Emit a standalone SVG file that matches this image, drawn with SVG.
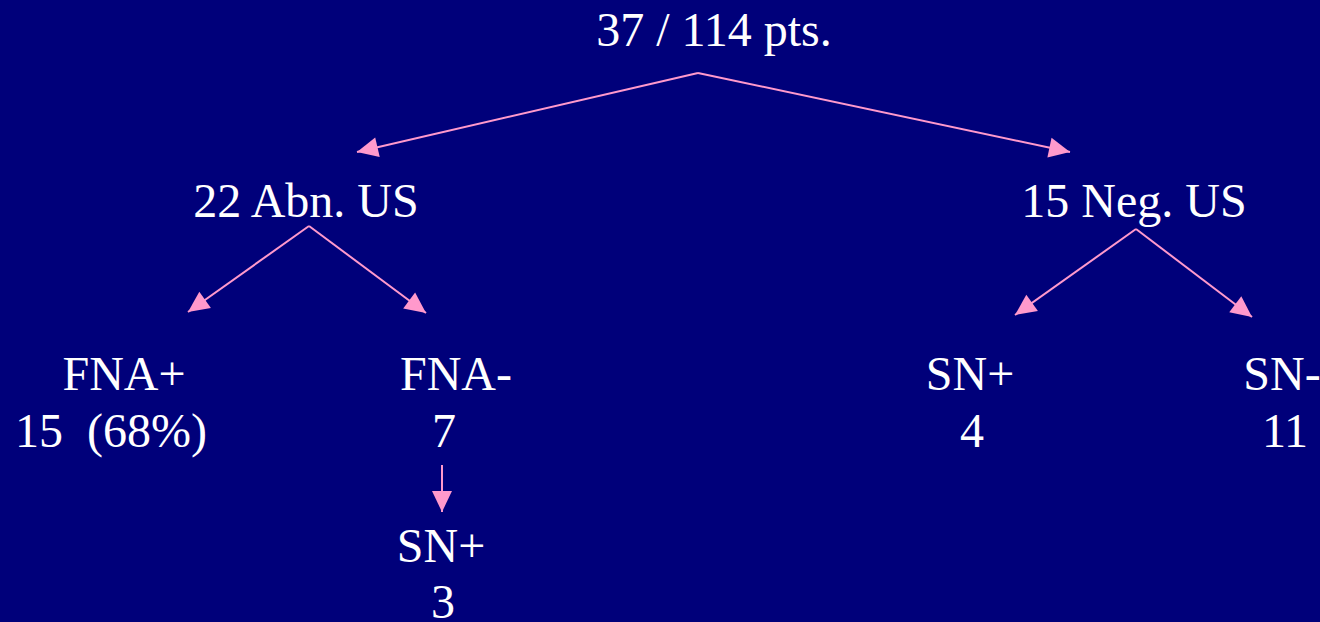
<svg xmlns="http://www.w3.org/2000/svg" width="1320" height="622" viewBox="0 0 1320 622">
  <style>
    .t { font-family: "Liberation Serif", "Times New Roman", serif; font-size: 48px; fill: #ffffff; text-anchor: middle; white-space: pre; }
    .c { stroke: #ff99cc; stroke-width: 2; fill: none; marker-end: url(#ah); }
  </style>
  <defs>
    <marker id="ah" markerUnits="userSpaceOnUse" markerWidth="24" markerHeight="22" refX="22" refY="11" orient="auto">
      <path d="M1,1 L22,11 L1,21 z" fill="#ff99cc"/>
    </marker>
  </defs>
  <rect width="1320" height="622" fill="#00007a"/>
  <g id="connectors">
    <polyline class="c" points="698,73 357,152"/>
    <polyline class="c" points="698,73 1070,152"/>
    <polyline class="c" points="309,226 188,312"/>
    <polyline class="c" points="309,226 426,313"/>
    <polyline class="c" points="1136,229 1015,315"/>
    <polyline class="c" points="1136,229 1252,317"/>
    <polyline class="c" points="442,465 442,512"/>
  </g>
  <g id="root"><text class="t" x="714" y="46">37 / 114 pts.</text></g>
  <g id="abn"><text class="t" x="306" y="217">22 Abn. US</text></g>
  <g id="neg"><text class="t" x="1134" y="217">15 Neg. US</text></g>
  <g id="fnapos">
    <text class="t" x="124" y="390">FNA+</text>
    <text class="t" x="111" y="447">15  (68%)</text>
  </g>
  <g id="fnaneg">
    <text class="t" x="456" y="390">FNA-</text>
    <text class="t" x="444" y="447">7</text>
  </g>
  <g id="snpos3">
    <text class="t" x="441" y="562">SN+</text>
    <text class="t" x="443" y="618">3</text>
  </g>
  <g id="snpos4">
    <text class="t" x="970" y="390">SN+</text>
    <text class="t" x="972" y="447">4</text>
  </g>
  <g id="snneg">
    <text class="t" x="1282" y="390">SN-</text>
    <text class="t" x="1285" y="447">11</text>
  </g>
</svg>
